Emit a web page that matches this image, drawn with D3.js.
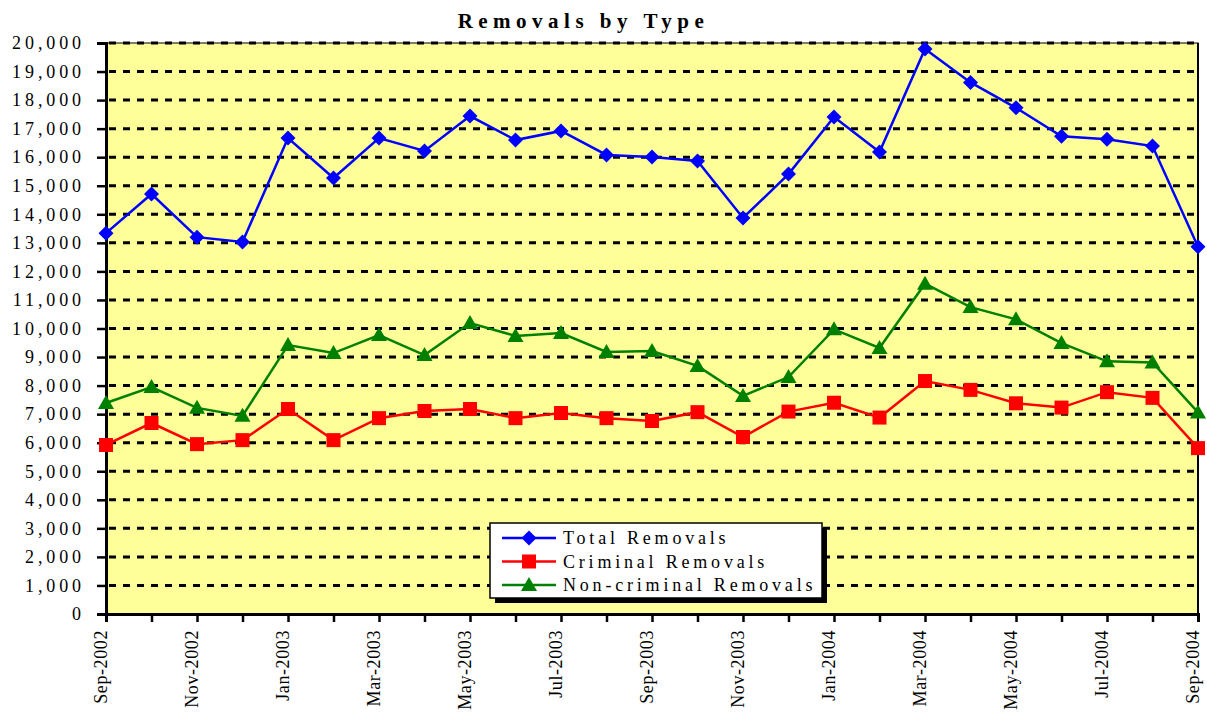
<!DOCTYPE html>
<html><head><meta charset="utf-8">
<script src="https://cdn.jsdelivr.net/npm/d3@7"></script>
<style>body{margin:0;background:#fff}svg{display:block}svg text{font-family:"Liberation Serif","Times New Roman",serif}</style>
</head><body>
<script>
const months = ["Sep-2002","Oct-2002","Nov-2002","Dec-2002","Jan-2003","Feb-2003","Mar-2003","Apr-2003","May-2003","Jun-2003","Jul-2003","Aug-2003","Sep-2003","Oct-2003","Nov-2003","Dec-2003","Jan-2004","Feb-2004","Mar-2004","Apr-2004","May-2004","Jun-2004","Jul-2004","Aug-2004","Sep-2004"];
const totalRemovals = [13340,14710,13200,13030,16670,15270,16670,16220,17440,16600,16920,16080,16010,15870,13870,15410,17410,16180,19790,18620,17730,16730,16630,16390,12860];
const criminalRemovals = [5920,6690,5950,6090,7180,6090,6860,7110,7180,6860,7040,6860,6760,7070,6200,7090,7400,6880,8160,7850,7380,7230,7770,7570,5810];
const nonCriminalRemovals = [7390,7950,7220,6940,9420,9140,9770,9070,10190,9740,9840,9180,9210,8690,7640,8300,9970,9320,11570,10750,10320,9490,8850,8810,7060];
const yTicks = [0,1000,2000,3000,4000,5000,6000,7000,8000,9000,10000,11000,12000,13000,14000,15000,16000,17000,18000,19000,20000];
const series = [
  {name:"Total Removals", values: totalRemovals, color:"#0000FF", symbol:"diamond"},
  {name:"Criminal Removals", values: criminalRemovals, color:"#FF0000", symbol:"square"},
  {name:"Non-criminal Removals", values: nonCriminalRemovals, color:"#008000", symbol:"triangle"}
];

const W = 1207, H = 712;
const m = {left:106, right:1198, top:43, bottom:614};
const svg = d3.select("body").append("svg").attr("width",W).attr("height",H);
const x = d3.scalePoint().domain(months).range([m.left, m.right]);
const y = d3.scaleLinear().domain([0,20000]).range([m.bottom, m.top]);
const serif = '"Liberation Serif","Times New Roman",serif';

svg.append("rect").attr("x",m.left).attr("y",m.top).attr("width",m.right-m.left).attr("height",m.bottom-m.top)
  .attr("fill","#FFFF99").attr("stroke","#000").attr("stroke-width",1);

// gridlines
svg.append("g").selectAll("line").data(yTicks.filter(d=>d>0)).join("line")
  .attr("x1",m.left+3).attr("x2",m.right).attr("y1",d=>y(d)).attr("y2",d=>y(d))
  .attr("stroke","#000").attr("stroke-width",3).attr("stroke-dasharray","7,7");

// right border
svg.append("line").attr("x1",m.right).attr("x2",m.right).attr("y1",m.top).attr("y2",m.bottom)
  .attr("stroke","#000").attr("stroke-width",2);

// Y axis
const yAxis = d3.axisLeft(y).tickValues(yTicks).tickSize(9).tickPadding(16).tickFormat(d3.format(","));
const gy = svg.append("g").attr("transform",`translate(${m.left},0)`).call(yAxis);
gy.attr("font-family",null).attr("font-size",null);
gy.select(".domain").attr("stroke","#000").attr("stroke-width",3);
gy.selectAll(".tick line").attr("stroke","#000").attr("stroke-width",2.5);
gy.selectAll(".tick text").style("font-family",serif).style("font-size","18px").attr("fill","#000")
  .attr("letter-spacing","3.9px").attr("dx","4px");

// X axis
const xAxis = d3.axisBottom(x).tickSize(8).tickFormat((d,i)=> i%2===0 ? d : "");
const gx = svg.append("g").attr("transform",`translate(0,${m.bottom})`).call(xAxis);
gx.attr("font-family",null).attr("font-size",null);
gx.select(".domain").attr("stroke","#000").attr("stroke-width",3);
gx.selectAll(".tick line").attr("stroke","#000").attr("stroke-width",2.5);
gx.selectAll(".tick text").style("font-family",serif).style("font-size","18px").attr("fill","#000")
  .attr("transform","rotate(-90)").attr("text-anchor","end").attr("x",-16).attr("y",0).attr("dy","0.05em")
  .attr("letter-spacing","0.6px");

// lines & markers
const line = d3.line().x((d,i)=>x(months[i])).y(d=>y(d));
function markerPath(s){
  if(s==="diamond") return "M0,-7.5L7.5,0L0,7.5L-7.5,0Z";
  if(s==="square") return "M-7,-7H7V7H-7Z";
  return "M0,-8L8,6L-8,6Z";
}
series.forEach(s=>{
  svg.append("path").datum(s.values).attr("d",line).attr("fill","none").attr("stroke",s.color).attr("stroke-width",2.5);
  svg.append("g").selectAll("path").data(s.values).join("path")
    .attr("transform",(d,i)=>`translate(${x(months[i])},${y(d)})`)
    .attr("d",markerPath(s.symbol)).attr("fill",s.color);
});

// title
svg.append("text").attr("x",583.5).attr("y",28).attr("text-anchor","middle")
  .style("font-family",serif).style("font-weight","bold").style("font-size","21px").attr("letter-spacing","5.5px")
  .text("Removals by Type");

// legend
const lg = svg.append("g");
lg.append("rect").attr("x",495).attr("y",528).attr("width",332).attr("height",75).attr("fill","#000");
lg.append("rect").attr("x",490).attr("y",523).attr("width",332).attr("height",75).attr("fill","#fff").attr("stroke","#000").attr("stroke-width",1.5);
series.forEach((s,i)=>{
  const yy = 538 + i*23.5;
  lg.append("line").attr("x1",502).attr("x2",556).attr("y1",yy).attr("y2",yy).attr("stroke",s.color).attr("stroke-width",2.5);
  lg.append("path").attr("transform",`translate(529,${yy})`).attr("d",markerPath(s.symbol)).attr("fill",s.color);
  lg.append("text").attr("x",563).attr("y",yy).attr("dy","0.35em").style("font-family",serif).style("font-size","18px")
    .attr("letter-spacing","3.8px").text(s.name);
});
</script>
</body></html>
